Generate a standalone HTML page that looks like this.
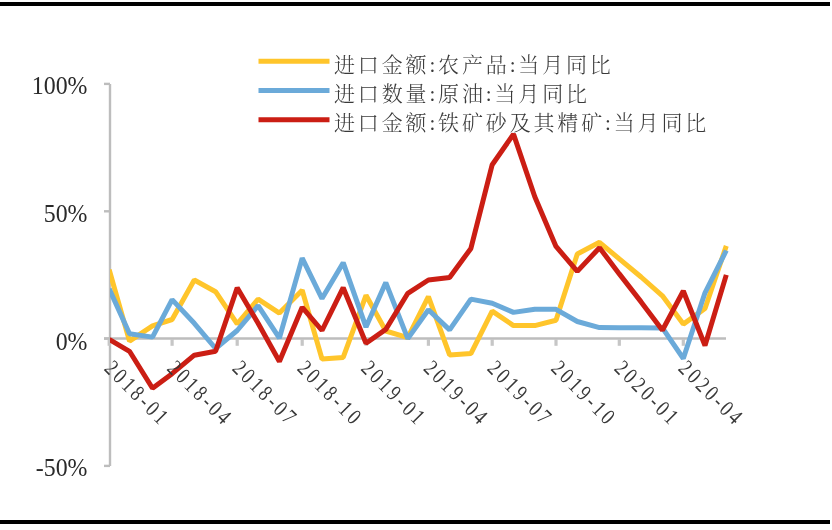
<!DOCTYPE html>
<html><head><meta charset="utf-8"><style>
html,body{margin:0;padding:0;background:#fff;}
body{width:832px;height:530px;position:relative;overflow:hidden;}
.bar{position:absolute;left:0;width:830px;height:4px;background:#000;}
svg{position:absolute;left:0;top:0;filter:blur(0.45px);}
.num{font-family:"Liberation Serif",serif;font-size:24px;fill:#2a2a2a;}
.xl{letter-spacing:4.0px;font-size:22.5px;fill:#383838;}
.yl{letter-spacing:0px;font-size:25px;}
.lg{font-family:"Liberation Serif","Noto Serif CJK SC",serif;font-size:21px;letter-spacing:2.85px;font-weight:300;fill:#3a3a3a;}
</style></head><body>
<div class="bar" style="top:2px"></div>
<div class="bar" style="top:520px"></div>
<svg width="832" height="530" viewBox="0 0 832 530">
<g stroke="#bdbdbd" stroke-width="2.4" fill="none">
<line x1="110" y1="83.9" x2="110" y2="465.9"/>
<line x1="104" y1="338.5" x2="726" y2="338.5"/>
<line x1="109.2" y1="339" x2="109.2" y2="345.8" stroke="#c6c6c6" stroke-width="3.2"/><line x1="172.1" y1="339" x2="172.1" y2="345.8" stroke="#c6c6c6" stroke-width="3.2"/><line x1="237.2" y1="339" x2="237.2" y2="345.8" stroke="#c6c6c6" stroke-width="3.2"/><line x1="302.2" y1="339" x2="302.2" y2="345.8" stroke="#c6c6c6" stroke-width="3.2"/><line x1="366.0" y1="339" x2="366.0" y2="345.8" stroke="#c6c6c6" stroke-width="3.2"/><line x1="428.4" y1="339" x2="428.4" y2="345.8" stroke="#c6c6c6" stroke-width="3.2"/><line x1="492.2" y1="339" x2="492.2" y2="345.8" stroke="#c6c6c6" stroke-width="3.2"/><line x1="556.0" y1="339" x2="556.0" y2="345.8" stroke="#c6c6c6" stroke-width="3.2"/><line x1="619.3" y1="339" x2="619.3" y2="345.8" stroke="#c6c6c6" stroke-width="3.2"/><line x1="683.3" y1="339" x2="683.3" y2="345.8" stroke="#c6c6c6" stroke-width="3.2"/>
<line x1="104" y1="83.9" x2="110" y2="83.9"/><line x1="104" y1="211.3" x2="110" y2="211.3"/><line x1="104" y1="338.6" x2="110" y2="338.6"/><line x1="104" y1="465.9" x2="110" y2="465.9"/>
</g>
<defs><clipPath id="pc"><rect x="110" y="0" width="700" height="530"/></clipPath></defs>
<g fill="none" stroke-width="5.0" stroke-linejoin="bevel" clip-path="url(#pc)">
<polyline points="109.2,269.8 129.5,341.1 152.5,325.9 172.1,319.5 194.3,280.0 215.6,291.7 237.2,323.8 258.1,299.1 279.4,313.1 302.2,290.2 322.0,359.0 343.2,357.4 366.0,295.3 385.8,331.0 407.8,337.6 428.4,296.6 449.6,354.9 470.9,353.6 492.2,311.1 513.5,325.6 534.8,325.6 556.0,320.3 577.3,254.0 599.5,242.3 619.3,258.9 641.1,277.0 662.4,295.8 683.3,324.1 705.0,308.5 726.3,245.9" stroke="#FFC52B"/>
<polyline points="109.2,288.9 129.5,333.8 152.5,337.1 172.1,299.6 194.3,323.3 215.6,348.5 237.2,330.5 258.1,305.7 279.4,338.1 302.2,258.1 322.0,298.6 343.2,262.7 366.0,327.1 385.8,282.6 407.8,338.6 428.4,309.8 449.6,329.9 470.9,299.1 492.2,303.2 513.5,312.4 534.8,309.3 556.0,309.3 577.3,321.5 599.5,327.6 619.3,327.8 641.1,327.8 662.4,327.9 683.3,358.5 705.0,292.8 726.3,250.5" stroke="#6BAAD9"/>
<polyline points="109.2,339.4 129.5,351.3 152.5,388.3 172.1,373.7 194.3,355.2 215.6,351.3 237.2,287.7 258.1,323.3 279.4,361.5 302.2,307.3 322.0,330.5 343.2,287.7 366.0,343.2 385.8,329.4 407.8,293.3 428.4,280.0 449.6,277.5 470.9,248.4 492.2,164.7 513.5,134.1 534.8,196.7 556.0,246.4 577.3,271.4 599.5,247.7 619.3,273.9 641.1,301.9 662.4,330.2 683.3,291.0 705.0,345.5 726.3,274.9" stroke="#CB1E14"/>
</g>
<g class="num">
<text x="0" y="0" class="yl" text-anchor="end" transform="translate(87.5 93.6) scale(0.955 1)">100%</text><text x="0" y="0" class="yl" text-anchor="end" transform="translate(87.5 221.8) scale(0.955 1)">50%</text><text x="0" y="0" class="yl" text-anchor="end" transform="translate(87.5 349.5) scale(0.955 1)">0%</text><text x="0" y="0" class="yl" text-anchor="end" transform="translate(87.5 476.3) scale(0.955 1)">-50%</text>
<text x="0" y="0" class="xl" transform="translate(103.2 369.5) rotate(45) scale(0.8 1)">2018-01</text><text x="0" y="0" class="xl" transform="translate(166.1 369.5) rotate(45) scale(0.8 1)">2018-04</text><text x="0" y="0" class="xl" transform="translate(231.2 369.5) rotate(45) scale(0.8 1)">2018-07</text><text x="0" y="0" class="xl" transform="translate(296.2 369.5) rotate(45) scale(0.8 1)">2018-10</text><text x="0" y="0" class="xl" transform="translate(360.0 369.5) rotate(45) scale(0.8 1)">2019-01</text><text x="0" y="0" class="xl" transform="translate(422.4 369.5) rotate(45) scale(0.8 1)">2019-04</text><text x="0" y="0" class="xl" transform="translate(486.2 369.5) rotate(45) scale(0.8 1)">2019-07</text><text x="0" y="0" class="xl" transform="translate(550.0 369.5) rotate(45) scale(0.8 1)">2019-10</text><text x="0" y="0" class="xl" transform="translate(613.3 369.5) rotate(45) scale(0.8 1)">2020-01</text><text x="0" y="0" class="xl" transform="translate(677.3 369.5) rotate(45) scale(0.8 1)">2020-04</text>
</g>
<line x1="258.5" y1="61.3" x2="329.5" y2="61.3" stroke="#FFC52B" stroke-width="5.0" stroke-linecap="butt"/><text x="334" y="71.5" class="lg">进口金额:农产品:当月同比</text><line x1="258.5" y1="90.5" x2="329.5" y2="90.5" stroke="#6BAAD9" stroke-width="5.0" stroke-linecap="butt"/><text x="334" y="100.7" class="lg">进口数量:原油:当月同比</text><line x1="258.5" y1="119.8" x2="329.5" y2="119.8" stroke="#CB1E14" stroke-width="5.0" stroke-linecap="butt"/><text x="334" y="130.0" class="lg">进口金额:铁矿砂及其精矿:当月同比</text>
</svg>
</body></html>
